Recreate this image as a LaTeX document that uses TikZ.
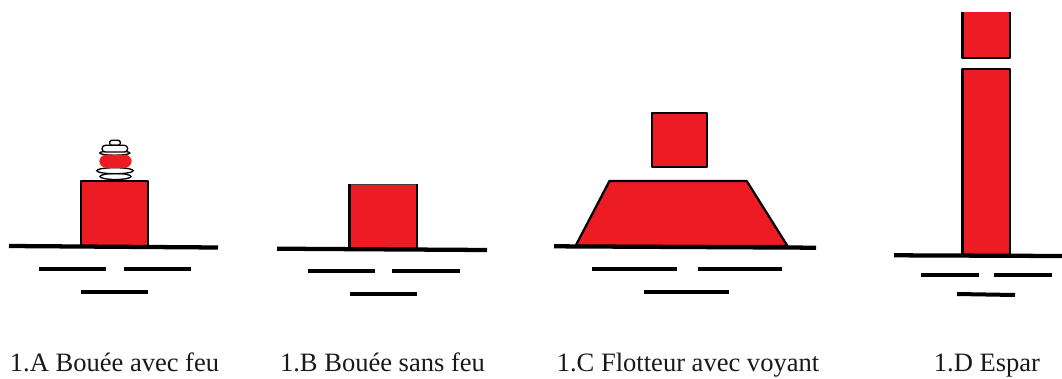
\documentclass[tikz,border=0pt]{standalone}
\usepackage{fontspec}
\setmainfont{Liberation Serif}
\definecolor{buoyred}{HTML}{ED1C24}
\tikzset{
  px/.style={x=0.75pt,y=-0.75pt},
  body/.style={fill=buoyred,draw=black,line width=1.7pt,line join=round},
  waterline/.style={draw=black,line width=3.2pt},
  wave/.style={draw=black,line width=3pt},
  lamp/.style={draw=black,fill=white,line width=1pt},
  caption/.style={anchor=base,inner sep=0pt,font=\fontsize{19.9pt}{23pt}\selectfont,text=black!90}
}
\begin{document}
\begin{tikzpicture}[px]
\useasboundingbox (0,0) rectangle (1062,378);
% 1.A
\draw[lamp,rounded corners=1.2pt] (109.7,140.3) rectangle (120.3,145.3);
\draw[lamp] (114.8,153) ellipse (15 and 2.2);
\draw[lamp,rounded corners=2.5pt] (102,145.3) rectangle (127.7,152);
\draw[lamp] (115.5,176.5) ellipse (15.5 and 3);
\draw[lamp] (115,170.7) ellipse (18.2 and 3);
\fill[buoyred,rounded corners=5.5pt] (99.3,154.5) rectangle (131.7,168);
\draw[body] (81,181) rectangle (148,246.5);
\draw[waterline] (9,246) -- (218,247.5);
\draw[wave] (39,268.5) -- (106,268.5);
\draw[wave] (124,268.5) -- (191,268.5);
\draw[wave] (81,292) -- (148,292);
% 1.B
\fill[buoyred] (349.5,184.5) rectangle (417,249);
\draw[black!75,line width=0.8pt] (349.5,184.5) -- (417,184.5);
\draw[body,fill=none] (349.5,184) -- (349.5,249) -- (417,249) -- (417,184);
\draw[waterline] (277,248.7) -- (487,250);
\draw[wave] (308,270.7) -- (375,270.7);
\draw[wave] (392,270.7) -- (460,270.7);
\draw[wave] (350,294) -- (417,294);
% 1.C
\draw[body] (652.3,113) rectangle (707,167.3);
\draw[body] (609.5,181) -- (746.7,181) -- (787.5,246) -- (575.5,246) -- cycle;
\draw[waterline] (554,246.3) -- (816,247.7);
\draw[wave] (592,268.7) -- (676.5,268.7);
\draw[wave] (698,268.7) -- (781.5,268.7);
\draw[wave] (644,292) -- (729,292);
% 1.D
\fill[buoyred] (962.5,12) rectangle (1009.7,58);
\draw[body,fill=none] (962.5,12) -- (962.5,58) -- (1009.7,58) -- (1009.7,12);
\draw[body] (962.5,69) rectangle (1009.7,255.5);
\draw[waterline] (894,255.3) -- (1062,256);
\draw[wave] (920.5,274.5) -- (979,274.5);
\draw[wave] (993.5,274.5) -- (1051.5,274.5);
\draw[wave] (957,294) -- (1015,295);
% captions
\node[caption] (capA) at (114.5,371.7) {1.A Bouée avec feu};
\node[caption] (capB) at (382.5,371.7) {1.B Bouée sans feu};
\node[caption] (capC) at (688,371.7) {1.C Flotteur avec voyant};
\node[caption] (capD) at (987,371.7) {1.D Espar};
\end{tikzpicture}
\end{document}
